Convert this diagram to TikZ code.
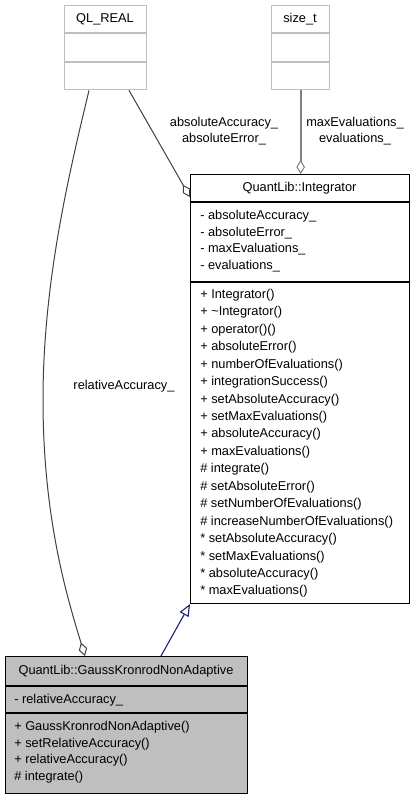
\documentclass[tikz,border=0pt]{standalone}
\usepackage{fontspec}
\setmainfont{Liberation Sans}
\usetikzlibrary{arrows.meta,calc}
\definecolor{boxgray}{HTML}{BFBFBF}
\definecolor{edgegray}{HTML}{404040}
\definecolor{midgray}{HTML}{808080}
\definecolor{inhblue}{HTML}{191970}
\tikzset{
  every node/.style={font=\fontsize{9.6pt}{11.5pt}\selectfont, inner sep=0pt},
  classbox/.style={draw=black, line width=0.8pt, fill=white, anchor=north west, rectangle},
  extbox/.style={draw=boxgray, line width=1pt, fill=white, anchor=north west, rectangle},
  gkbox/.style={draw=black, line width=0.8pt, fill=boxgray, anchor=north west, rectangle},
  member/.style={anchor=west},
  title/.style={anchor=center},
  elabel/.style={align=center, anchor=center},
  agg/.style={draw=edgegray, line width=0.75pt, -{Diamond[open, length=10.5pt, width=6.5pt, line width=0.75pt]}},
  agg2/.style={draw=midgray, line width=1.3pt, -{Diamond[open, length=10.5pt, width=6.5pt, line width=0.75pt]}},
  inh/.style={draw=inhblue, line width=0.8pt, -{Triangle[open, length=9pt, width=7.5pt, line width=0.8pt]}}
}
\begin{document}
\begin{tikzpicture}[x=0.75pt, y=-0.75pt]
\useasboundingbox (0,0) rectangle (415,800);

% QL_REAL
\node[extbox, minimum width=61.5pt, minimum height=63pt] (ql) at (64,5) {};
\draw[boxgray, line width=1pt] (64,33) -- (146,33) (64,62) -- (146,62);
\node[title] (qlt) at (105,19) {QL\_REAL};

% size_t
\node[extbox, minimum width=43.5pt, minimum height=63pt] (st) at (271,5) {};
\draw[boxgray, line width=1pt] (271,33) -- (329,33) (271,62) -- (329,62);
\node[title] (stt) at (300,19) {size\_t};

% Integrator
\node[classbox, minimum width=164.25pt, minimum height=321.75pt] (integ) at (190,174) {};
\draw[black, line width=0.8pt] (190,202) -- (409,202) (190,282) -- (409,282);
\node[title] (integt) at (299.5,188) {QuantLib::Integrator};
\foreach \t [count=\i from 0] in {- absoluteAccuracy\_, - absoluteError\_, - maxEvaluations\_, - evaluations\_}{
  \node[member] (ia\i) at (200,216+16.7*\i) {\t};
}
\foreach \t [count=\i from 0] in {+ Integrator(), + \textasciitilde Integrator(), + operator()(), + absoluteError(),
  + numberOfEvaluations(), + integrationSuccess(), + setAbsoluteAccuracy(), + setMaxEvaluations(),
  + absoluteAccuracy(), + maxEvaluations(), \# integrate(), \# setAbsoluteError(),
  \# setNumberOfEvaluations(), \# increaseNumberOfEvaluations(), * setAbsoluteAccuracy(),
  * setMaxEvaluations(), * absoluteAccuracy(), * maxEvaluations()}{
  \node[member] (im\i) at (200,295+17.45*\i) {\t};
}

% GaussKronrodNonAdaptive
\node[gkbox, minimum width=181.5pt, minimum height=102.75pt] (gk) at (5,656) {};
\draw[black, line width=0.8pt] (5,686) -- (247,686) (5,713) -- (247,713);
\node[title] (gkt) at (126,671) {QuantLib::GaussKronrodNonAdaptive};
\node[member] (ga0) at (14,700) {- relativeAccuracy\_};
\foreach \t [count=\i from 0] in {+ GaussKronrodNonAdaptive(), + setRelativeAccuracy(), + relativeAccuracy(), \# integrate()}{
  \node[member] (gm\i) at (14,727+16.7*\i) {\t};
}

% connectors
\draw[agg] ($(ql.south west)+(65,0)$) -- ($(integ.north west)+(0,23)$);
\draw[agg2] (st.south) -- (st.south |- integ.north);
\draw[agg] ($(ql.south west)+(25,0)$) .. controls (70,170) and (43,280) .. (43,400)
  .. controls (43,520) and (68,600) .. ($(gk.north west)+(80,0)$);
\draw[inh] ($(gk.north west)+(156,0)$) -- (integ.south west);

% edge labels
\node[elabel] (l1) at (224,131) {absoluteAccuracy\_\\absoluteError\_};
\node[elabel] (l2) at (355,131) {maxEvaluations\_\\evaluations\_};
\node[elabel] (l3) at (124,386) {relativeAccuracy\_};
\end{tikzpicture}
\end{document}
